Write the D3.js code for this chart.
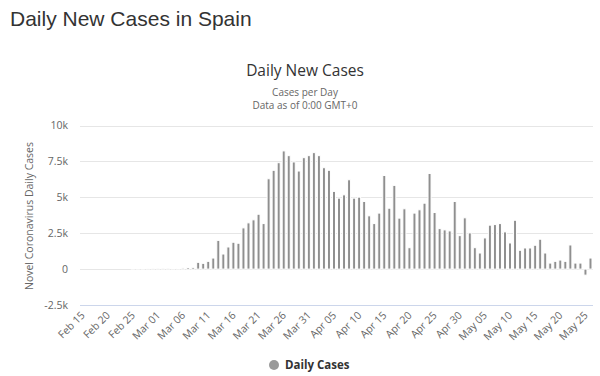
<!DOCTYPE html>
<html>
<head>
<meta charset="utf-8">
<script src="https://cdn.jsdelivr.net/npm/d3@7"></script>
<style>
  html, body { margin: 0; padding: 0; background: #fff; }
  svg { display: block; }
</style>
</head>
<body>
<svg id="chart" width="600" height="376"></svg>
<script>
// ---- data ----
const startDate = "2020-02-15";
const dailyCases = [
  0, 0, 0, 0, 0, 0, 0, 0, 0, 0,             // Feb 15 - Feb 24
  2, 4, 3, 10, 13,                          // Feb 25 - Feb 29
  15, 20, 30, 50, 60, 80, 110, 120,         // Mar 01 - Mar 08
  470, 400, 540, 770, 2000, 1050, 1540, 1870, 1800, 2870, // Mar 09 - Mar 18
  3220, 3430, 3820, 3170, 6290, 6880, 7410, 8230, 7900, 7460, // Mar 19 - Mar 28
  6830, 7760, 7900, 8110, 7900, 7060, 6880, 5410, 4940, 5170, // Mar 29 - Apr 07
  6220, 4940, 5010, 4710, 3710, 3170, 3900, 6520, 4240, 5830, // Apr 08 - Apr 17
  3550, 4200, 1490, 3900, 4130, 4590, 6660, 3940, 2820, 2730, // Apr 18 - Apr 27
  2660, 4710, 2330, 3570, 2520, 1490, 1120, 2170, 3060, 3100, // Apr 28 - May 07
  3170, 2590, 1820, 3400, 1310, 1470, 1470, 1660, 2080, 1120, // May 08 - May 17
  420, 540, 630, 540, 1680, 420, 420, -420, 770             // May 18 - May 26
];
const yTicks = [-2500, 0, 2500, 5000, 7500, 10000];
const yTickLabels = ["-2.5k", "0", "2.5k", "5k", "7.5k", "10k"];
const pageTitle = "Daily New Cases in Spain";
const chartTitle = "Daily New Cases";
const subtitleLines = ["Cases per Day", "Data as of 0:00 GMT+0"];
const yAxisTitle = "Novel Coronavirus Daily Cases";
const seriesName = "Daily Cases";

// ---- build categories ----
const fmt = d3.timeFormat("%b %d");
const start = d3.timeParse("%Y-%m-%d")(startDate);
const categories = dailyCases.map((_, i) => fmt(d3.timeDay.offset(start, i)));
const data = dailyCases.map((v, i) => ({ cat: categories[i], v }));

const svg = d3.select("#chart");
const FONT = "'Open Sans', 'DejaVu Sans', sans-serif";

// page title
svg.append("text")
  .attr("x", 10).attr("y", 26)
  .attr("font-family", "'Liberation Sans', Arial, sans-serif")
  .attr("font-size", 21)
  .attr("fill", "#333")
  .text(pageTitle);

// chart title & subtitle
svg.append("text")
  .attr("x", 305).attr("y", 76)
  .attr("text-anchor", "middle")
  .attr("font-family", FONT)
  .attr("font-size", 15.5)
  .attr("fill", "#333")
  .text(chartTitle);

subtitleLines.forEach((s, i) => {
  svg.append("text")
    .attr("x", 305).attr("y", 96 + i * 13)
    .attr("text-anchor", "middle")
    .attr("font-family", FONT)
    .attr("font-size", 10)
    .attr("fill", "#666")
    .text(s);
});

// scales
const x = d3.scaleBand().domain(categories).range([80, 593]).padding(0);
const y = d3.scaleLinear().domain([-2500, 10000]).range([305, 125.5]);

// gridlines
svg.append("g").selectAll("line")
  .data(yTicks.filter(t => t !== -2500))
  .join("line")
  .attr("x1", 80).attr("x2", 593)
  .attr("y1", d => Math.round(y(d)) + 0.5)
  .attr("y2", d => Math.round(y(d)) + 0.5)
  .attr("stroke", "#e6e6e6").attr("stroke-width", 1);

// x axis line (bottom)
svg.append("line")
  .attr("x1", 80).attr("x2", 593)
  .attr("y1", Math.round(y(-2500)) + 0.5).attr("y2", Math.round(y(-2500)) + 0.5)
  .attr("stroke", "#ccd6eb").attr("stroke-width", 1);

// y axis labels
const yAxis = d3.axisLeft(y).tickValues(yTicks)
  .tickFormat(d => yTickLabels[yTicks.indexOf(d)])
  .tickSize(0).tickPadding(0);
const gy = svg.append("g").attr("transform", "translate(68,0)").call(yAxis);
gy.select(".domain").remove();
gy.selectAll("text")
  .attr("font-family", FONT)
  .attr("font-size", 10.5)
  .attr("fill", "#666");

// y axis title
svg.append("text")
  .attr("transform", "translate(33,216) rotate(-90)")
  .attr("text-anchor", "middle")
  .attr("font-family", FONT)
  .attr("font-size", 10.5)
  .attr("fill", "#666")
  .text(yAxisTitle);

// bars
const bw = 3;
svg.append("g").selectAll("rect")
  .data(data)
  .join("rect")
  .attr("x", d => x(d.cat) + x.bandwidth() / 2 - bw / 2)
  .attr("width", bw)
  .attr("y", d => Math.min(y(d.v), y(0)))
  .attr("height", d => Math.abs(y(d.v) - y(0)))
  .attr("fill", "#8f8f8f")
  .attr("stroke", "#fff")
  .attr("stroke-width", 1);

// x axis labels (every 5 days, rotated)
const xTickCats = categories.filter((_, i) => i % 5 === 0);
const xAxis = d3.axisBottom(x).tickValues(xTickCats).tickSize(0).tickPadding(0);
const gx = svg.append("g").call(xAxis);
gx.select(".domain").remove();
gx.selectAll(".tick")
  .attr("transform", d => `translate(${x(d) + x.bandwidth() / 2 + 3},316)`);
gx.selectAll(".tick text")
  .attr("x", 0).attr("y", 0).attr("dy", 0)
  .attr("text-anchor", "end")
  .attr("transform", "rotate(-45)")
  .attr("font-family", FONT)
  .attr("font-size", 10.5)
  .attr("fill", "#666");

// legend
svg.append("circle")
  .attr("cx", 274).attr("cy", 365).attr("r", 5)
  .attr("fill", "#999");
svg.append("text")
  .attr("x", 285).attr("y", 369)
  .attr("font-family", FONT)
  .attr("font-size", 11.5)
  .attr("font-weight", "bold")
  .attr("fill", "#333")
  .text(seriesName);
</script>
</body>
</html>
